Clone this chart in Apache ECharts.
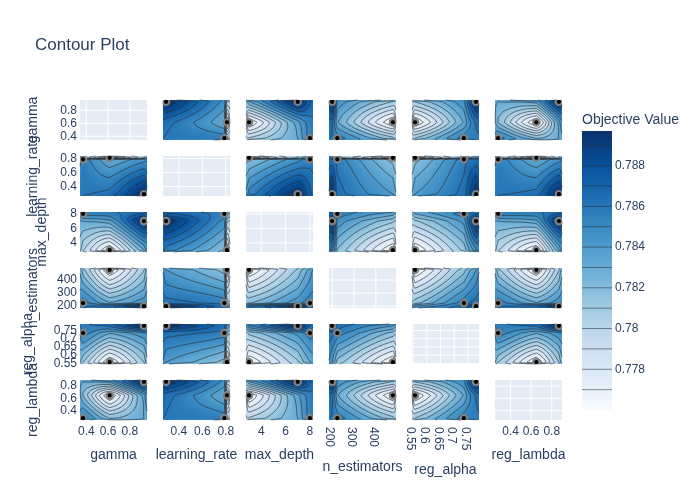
<!DOCTYPE html>
<html>
<head>
<meta charset="utf-8">
<title>Contour Plot</title>
<script src="https://cdn.jsdelivr.net/npm/echarts@6/dist/echarts.min.js"></script>
<style>
  html, body { margin: 0; padding: 0; background: #fff; }
  #chart { width: 700px; height: 500px; }
</style>
</head>
<body>
<div id="chart"></div>
<script>
var paramNames = ["gamma", "learning_rate", "max_depth", "n_estimators", "reg_alpha", "reg_lambda"];

// trial values, same order in every list
var objectiveValues = [0.7897, 0.776, 0.7855];
var gammaTrials = [0.93, 0.615, 0.37];
var learningRateTrials = [0.29, 0.81, 0.788];
var maxDepthTrials = [7, 3, 8];
var nEstimatorsTrials = [200, 478, 224];
var regAlphaTrials = [0.779, 0.557, 0.735];
var regLambdaTrials = [0.87, 0.65, 0.278];

// axis ends
var gammaRange = [0.342, 0.958];
var learningRateRange = [0.264, 0.836];
var maxDepthRange = [2.75, 8.25];
var nEstimatorsRange = [186, 492];
var regAlphaRange = [0.546, 0.79];
var regLambdaRange = [0.248, 0.9];

// tick labels
var gammaTicks = [0.4, 0.6, 0.8];
var learningRateTicks = [0.4, 0.6, 0.8];
var maxDepthTicks = [4, 6, 8];
var nEstimatorsTicks = [200, 300, 400];
var regAlphaTicks = [0.55, 0.6, 0.65, 0.7, 0.75];
var regAlphaTicksEven = [0.55, 0.65, 0.75];
var regAlphaTicksOdd = [0.6, 0.7];
var regLambdaTicks = [0.4, 0.6, 0.8];
var colorbarTicks = [0.778, 0.78, 0.782, 0.784, 0.786, 0.788];
var contourLevels = [0.777, 0.778, 0.779, 0.78, 0.781, 0.782, 0.783, 0.784, 0.785, 0.786, 0.787, 0.788, 0.789];

// objective surfaces, top row first, x running left to right
var zGammaLambda = [
  [0.7834, 0.7837, 0.7848, 0.7872, 0.7872],
  [0.7831, 0.7830, 0.7834, 0.7897, 0.7872],
  [0.7831, 0.7819, 0.7760, 0.7834, 0.7848],
  [0.7843, 0.7855, 0.7819, 0.7830, 0.7837],
  [0.7843, 0.7843, 0.7831, 0.7831, 0.7834]
];
var zLearningEstimators = [
  [0.7840, 0.7831, 0.7811, 0.7786, 0.7786],
  [0.7849, 0.7840, 0.7816, 0.7760, 0.7786],
  [0.7865, 0.7864, 0.7855, 0.7816, 0.7811],
  [0.7881, 0.7897, 0.7864, 0.7840, 0.7831],
  [0.7881, 0.7881, 0.7865, 0.7849, 0.7840]
];
var zGammaLearning = [
  [0.7819, 0.7809, 0.7791, 0.7806, 0.7815],
  [0.7828, 0.7813, 0.7760, 0.7809, 0.7825],
  [0.7848, 0.7855, 0.7831, 0.7846, 0.7849],
  [0.7857, 0.7859, 0.7864, 0.7897, 0.7874],
  [0.7859, 0.7860, 0.7868, 0.7880, 0.7877]
];
var zGammaDepth = [
  [0.7849, 0.7854, 0.7858, 0.7866, 0.7868],
  [0.7845, 0.7855, 0.7855, 0.7872, 0.7870],
  [0.7829, 0.7830, 0.7836, 0.7897, 0.7870],
  [0.7813, 0.7801, 0.7760, 0.7829, 0.7843],
  [0.7807, 0.7801, 0.7793, 0.7817, 0.7830]
];
var zGammaAlpha = [
  [0.7853, 0.7858, 0.7867, 0.7881, 0.7878],
  [0.7849, 0.7856, 0.7862, 0.7897, 0.7875],
  [0.7841, 0.7855, 0.7831, 0.7847, 0.7849],
  [0.7821, 0.7810, 0.7760, 0.7810, 0.7826],
  [0.7812, 0.7805, 0.7791, 0.7807, 0.7817]
];
var zLearningDepth = [
  [0.7871, 0.7867, 0.7855, 0.7841, 0.7834],
  [0.7874, 0.7873, 0.7855, 0.7834, 0.7826],
  [0.7878, 0.7897, 0.7846, 0.7812, 0.7809],
  [0.7863, 0.7855, 0.7819, 0.7760, 0.7786],
  [0.7854, 0.7843, 0.7817, 0.7788, 0.7787]
];
var zLearningAlpha = [
  [0.7881, 0.7881, 0.7865, 0.7849, 0.7840],
  [0.7881, 0.7897, 0.7864, 0.7840, 0.7831],
  [0.7865, 0.7864, 0.7855, 0.7816, 0.7811],
  [0.7849, 0.7840, 0.7816, 0.7760, 0.7786],
  [0.7840, 0.7831, 0.7811, 0.7786, 0.7786]
];
var zDepthAlpha = [
  [0.7841, 0.7853, 0.7873, 0.7870, 0.7866],
  [0.7830, 0.7848, 0.7897, 0.7870, 0.7862],
  [0.7806, 0.7813, 0.7843, 0.7855, 0.7851],
  [0.7781, 0.7760, 0.7808, 0.7830, 0.7836],
  [0.7781, 0.7781, 0.7803, 0.7820, 0.7829]
];

var paramTrials = [gammaTrials, learningRateTrials, maxDepthTrials, nEstimatorsTrials, regAlphaTrials, regLambdaTrials];
var paramRanges = [gammaRange, learningRateRange, maxDepthRange, nEstimatorsRange, regAlphaRange, regLambdaRange];
var paramTicks = [gammaTicks, learningRateTicks, maxDepthTicks, nEstimatorsTicks, regAlphaTicks, regLambdaTicks];

// [x param, y param, surface]
var surfaces = [
  [0, 5, zGammaLambda],
  [1, 3, zLearningEstimators],
  [0, 1, zGammaLearning], [0, 3, zGammaLearning], [5, 1, zGammaLearning], [5, 3, zGammaLearning],
  [0, 2, zGammaDepth], [5, 2, zGammaDepth],
  [0, 4, zGammaAlpha], [5, 4, zGammaAlpha],
  [1, 2, zLearningDepth], [3, 2, zLearningDepth],
  [1, 4, zLearningAlpha], [3, 4, zLearningAlpha],
  [2, 4, zDepthAlpha]
];

var colLeft = [80, 163, 246, 329, 412, 495];
var rowTop = [100, 156, 212, 268, 324, 380];
var panelW = 67, panelH = 40;
var zMin = 0.776, zMax = 0.7897;
var textColor = "#2a3f5f";
var fontName = "Liberation Sans";
var blues = [[247,251,255],[222,235,247],[198,219,239],[158,202,225],[107,174,214],[66,146,198],[33,113,181],[8,81,156],[8,48,107]];

function bluesAt(v) {
  var t = (v - zMin) / (zMax - zMin) * (blues.length - 1);
  t = Math.max(0, Math.min(blues.length - 1.0001, t));
  var k = Math.floor(t), f = t - k;
  return [0, 1, 2].map(function (i) {
    return blues[k][i] + (blues[k + 1][i] - blues[k][i]) * f;
  });
}

// surface node positions: axis ends plus the sorted trial values
function nodesOf(p) {
  var s = paramTrials[p].slice().sort(function (a, b) { return a - b; });
  return [paramRanges[p][0]].concat(s, [paramRanges[p][1]]);
}

function findSurface(xp, yp) {
  for (var i = 0; i < surfaces.length; i++) {
    var s = surfaces[i];
    if (s[0] === xp && s[1] === yp) {
      return (function (t) { return function (ix, iy) { return t[4 - iy][ix]; }; })(s[2]);
    }
    if (s[0] === yp && s[1] === xp) {
      return (function (t) { return function (ix, iy) { return t[4 - ix][iy]; }; })(s[2]);
    }
  }
}

function cr(a, b, c, d, t) {
  return 0.5 * (2 * b + (c - a) * t + (2 * a - 5 * b + 4 * c - d) * t * t + (3 * b - a - 3 * c + d) * t * t * t);
}
function clampIdx(i) { return Math.max(0, Math.min(4, i)); }

// smooth value between the read nodes, u and v in node index space
function sample(get, u, v) {
  var ku = Math.min(3, Math.floor(u)), kv = Math.min(3, Math.floor(v));
  var tu = u - ku, tv = v - kv;
  var rows = [];
  for (var j = -1; j <= 2; j++) {
    var iy = clampIdx(kv + j);
    rows.push(cr(get(clampIdx(ku - 1), iy), get(ku, iy), get(ku + 1, iy), get(clampIdx(ku + 2), iy), tu));
  }
  var curved = cr(rows[0], rows[1], rows[2], rows[3], tv);
  var flat = (get(ku, kv) * (1 - tu) + get(ku + 1, kv) * tu) * (1 - tv) +
    (get(ku, kv + 1) * (1 - tu) + get(ku + 1, kv + 1) * tu) * tv;
  // mostly straight between nodes, the rings in the picture are evenly spaced
  var out = 0.6 * flat + 0.4 * curved;
  return Math.max(zMin, Math.min(zMax, out));
}

function toIndex(nodes, val) {
  for (var k = 0; k < 4; k++) {
    if (val <= nodes[k + 1]) return k + (val - nodes[k]) / (nodes[k + 1] - nodes[k]);
  }
  return 4;
}
function fromIndex(nodes, u) {
  var k = Math.min(3, Math.floor(u));
  return nodes[k] + (nodes[k + 1] - nodes[k]) * (u - k);
}

echarts.graphic.registerShape("contourLines", echarts.graphic.extendShape({
  type: "contourLines",
  shape: { segs: [] },
  buildPath: function (ctx, shape) {
    var s = shape.segs;
    for (var i = 0; i < s.length; i += 4) {
      ctx.moveTo(s[i], s[i + 1]);
      ctx.lineTo(s[i + 2], s[i + 3]);
    }
  }
}));

function contourItem(xp, yp) {
  var xNodes = nodesOf(xp), yNodes = nodesOf(yp), get = findSurface(xp, yp);
  var subdiv = 12, n = 4 * subdiv;
  var field = [];
  for (var a = 0; a <= n; a++) {
    field.push([]);
    for (var b = 0; b <= n; b++) field[a].push(sample(get, b / subdiv, a / subdiv));
  }
  return function (params, api) {
    var tl = api.coord([paramRanges[xp][0], paramRanges[yp][1]]);
    var br = api.coord([paramRanges[xp][1], paramRanges[yp][0]]);
    var w = Math.round(br[0] - tl[0]), h = Math.round(br[1] - tl[1]);
    var cv = document.createElement("canvas");
    cv.width = w; cv.height = h;
    var ctx = cv.getContext("2d"), img = ctx.createImageData(w, h);
    for (var py = 0; py < h; py++) {
      var yv = paramRanges[yp][1] - (py + 0.5) / h * (paramRanges[yp][1] - paramRanges[yp][0]);
      var v = toIndex(yNodes, yv);
      for (var px = 0; px < w; px++) {
        var xv = paramRanges[xp][0] + (px + 0.5) / w * (paramRanges[xp][1] - paramRanges[xp][0]);
        var c = bluesAt(sample(get, toIndex(xNodes, xv), v));
        var o = (py * w + px) * 4;
        img.data[o] = c[0]; img.data[o + 1] = c[1]; img.data[o + 2] = c[2]; img.data[o + 3] = 255;
      }
    }
    ctx.putImageData(img, 0, 0);

    // marching squares on the smooth field
    var segs = [];
    function pt(u, v) {
      return api.coord([fromIndex(xNodes, u / subdiv), fromIndex(yNodes, v / subdiv)]);
    }
    contourLevels.forEach(function (lv) {
      for (var j = 0; j < n; j++) {
        for (var i = 0; i < n; i++) {
          var z0 = field[j][i], z1 = field[j][i + 1], z2 = field[j + 1][i + 1], z3 = field[j + 1][i];
          var cross = [];
          if ((z0 < lv) !== (z1 < lv)) cross.push(pt(i + (lv - z0) / (z1 - z0), j));
          if ((z1 < lv) !== (z2 < lv)) cross.push(pt(i + 1, j + (lv - z1) / (z2 - z1)));
          if ((z3 < lv) !== (z2 < lv)) cross.push(pt(i + (lv - z3) / (z2 - z3), j + 1));
          if ((z0 < lv) !== (z3 < lv)) cross.push(pt(i, j + (lv - z0) / (z3 - z0)));
          for (var q = 0; q + 1 < cross.length; q += 2) {
            segs.push(cross[q][0], cross[q][1], cross[q + 1][0], cross[q + 1][1]);
          }
        }
      }
    });
    return {
      type: "group",
      children: [
        { type: "image", style: { image: cv, x: tl[0], y: tl[1], width: w, height: h } },
        { type: "contourLines", shape: { segs: segs }, style: { stroke: "rgba(40,45,50,0.64)", fill: "none", lineWidth: 1 } }
      ]
    };
  };
}

function renderDot(params, api) {
  var p = api.coord([api.value(0), api.value(1)]);
  var r = params.coordSys;
  return {
    type: "circle",
    shape: { cx: p[0], cy: p[1], r: 3.2 },
    style: { fill: "#000", stroke: "#808080", lineWidth: 2.2 },
    clipPath: { type: "rect", shape: { x: r.x, y: r.y, width: r.width, height: r.height } }
  };
}

function renderGridLines(params, api) {
  var r = params.coordSys;
  var p = api.coord([api.value(0), api.value(1)]);
  if (api.value(2) === 0) {
    return { type: "line", shape: { x1: p[0], y1: r.y, x2: p[0], y2: r.y + r.height }, style: { stroke: "#fff", lineWidth: 1 } };
  }
  return { type: "line", shape: { x1: r.x, y1: p[1], x2: r.x + r.width, y2: p[1] }, style: { stroke: "#fff", lineWidth: 1 } };
}

var xNameGap = [28, 28, 28, 40, 43, 28];
var yNameGap = [40, 40, 31, 40, 45, 40];

var grids = [], xAxes = [], yAxes = [], series = [];
for (var row = 0; row < 6; row++) {
  for (var col = 0; col < 6; col++) {
    var idx = grids.length;
    grids.push({
      left: colLeft[col], top: rowTop[row], width: panelW, height: panelH,
      show: true, backgroundColor: "#E5ECF6", borderWidth: 0
    });
    var lastRow = row === 5, firstCol = col === 0;
    var rotated = col === 3 || col === 4;
    var xLabel = {
      show: lastRow, customValues: paramTicks[col], color: textColor, fontSize: 12, fontFamily: fontName,
      margin: rotated ? 7 : 6, hideOverlap: false, showMinLabel: true, showMaxLabel: true
    };
    if (rotated) {
      xLabel.rotate = -90;
      xLabel.verticalAlign = "top";
      xLabel.lineHeight = 5;
    }
    xAxes.push({
      type: "value", gridIndex: idx, min: paramRanges[col][0], max: paramRanges[col][1],
      axisLine: { show: false }, axisTick: { show: false }, splitLine: { show: false },
      axisLabel: xLabel,
      name: lastRow ? paramNames[col] : "", nameLocation: "middle", nameGap: xNameGap[col], nameMoveOverlap: false,
      nameTextStyle: { color: textColor, fontSize: 14, fontFamily: fontName }
    });
    yAxes.push({
      type: "value", gridIndex: idx, min: paramRanges[row][0], max: paramRanges[row][1],
      axisLine: { show: false }, axisTick: { show: false }, splitLine: { show: false },
      axisLabel: {
        show: firstCol, customValues: row === 4 ? regAlphaTicksEven : paramTicks[row], color: textColor, fontSize: 12, fontFamily: fontName,
        margin: 3, hideOverlap: false, showMinLabel: true, showMaxLabel: true
      },
      name: firstCol ? paramNames[row] : "", nameLocation: "middle", nameGap: yNameGap[row], nameMoveOverlap: false,
      nameTextStyle: { color: textColor, fontSize: 14, fontFamily: fontName }
    });
    if (row === col) {
      var lines = [];
      paramTicks[col].forEach(function (t) { lines.push([t, paramRanges[row][0], 0]); });
      paramTicks[row].forEach(function (t) { lines.push([paramRanges[col][0], t, 1]); });
      series.push({
        type: "custom", xAxisIndex: idx, yAxisIndex: idx, silent: true, z: 1,
        renderItem: renderGridLines, data: lines
      });
    } else {
      series.push({
        type: "custom", xAxisIndex: idx, yAxisIndex: idx, silent: true, z: 2,
        renderItem: contourItem(col, row), data: [[paramRanges[col][0], paramRanges[row][0]]]
      });
      series.push({
        type: "custom", xAxisIndex: idx, yAxisIndex: idx, silent: true, z: 3,
        renderItem: renderDot,
        data: paramTrials[col].map(function (v, i) { return [v, paramTrials[row][i], objectiveValues[i]]; })
      });
    }
  }
}

// echarts drops every other label when they overlap, the reference keeps them all,
// so the reg_alpha row carries the rest on a second axis
yAxes.push({
  type: "value", gridIndex: 24, min: regAlphaRange[0], max: regAlphaRange[1], position: "left",
  axisLine: { show: false }, axisTick: { show: false }, splitLine: { show: false },
  axisLabel: { customValues: regAlphaTicksOdd, color: textColor, fontSize: 12, fontFamily: fontName, margin: 3, hideOverlap: false, showMinLabel: true, showMaxLabel: true }
});

// colour bar
var barIdx = grids.length;
var barYAxis = yAxes.length;
grids.push({ left: 582, top: 131, width: 30, height: 279, show: false });
xAxes.push({ type: "value", gridIndex: barIdx, min: 0, max: 1, show: false });
yAxes.push({
  type: "value", gridIndex: barIdx, min: zMin, max: zMax, position: "right",
  axisLine: { show: false }, axisTick: { show: false }, splitLine: { show: false },
  axisLabel: { customValues: colorbarTicks, color: textColor, fontSize: 12, fontFamily: fontName, margin: 3, hideOverlap: false }
});
series.push({
  type: "custom", xAxisIndex: barIdx, yAxisIndex: barYAxis, silent: true, z: 2,
  data: [[0, zMin]],
  renderItem: function (params, api) {
    var r = params.coordSys;
    var stops = blues.map(function (c, i) {
      return { offset: i / (blues.length - 1), color: "rgb(" + c.join(",") + ")" };
    });
    var kids = [{
      type: "rect",
      shape: { x: r.x, y: r.y, width: r.width, height: r.height },
      style: { fill: new echarts.graphic.LinearGradient(0, 1, 0, 0, stops) }
    }];
    contourLevels.forEach(function (lv) {
      var y = api.coord([0, lv])[1];
      kids.push({
        type: "line", shape: { x1: r.x, y1: y, x2: r.x + r.width, y2: y },
        style: { stroke: "rgba(40,45,50,0.55)", lineWidth: 1 }
      });
    });
    return { type: "group", children: kids };
  }
});

var chart = echarts.init(document.getElementById("chart"), null, { renderer: "canvas" });
chart.setOption({
  animation: false,
  backgroundColor: "#fff",
  title: [
    { text: "Contour Plot", left: 35, top: 37, padding: 0, textStyle: { color: textColor, fontSize: 17, fontWeight: "normal", fontFamily: fontName } },
    { text: "Objective Value", left: 582, top: 113, padding: 0, textStyle: { color: textColor, fontSize: 14, fontWeight: "normal", fontFamily: fontName } }
  ],
  grid: grids,
  xAxis: xAxes,
  yAxis: yAxes,
  series: series
});
</script>
</body>
</html>
